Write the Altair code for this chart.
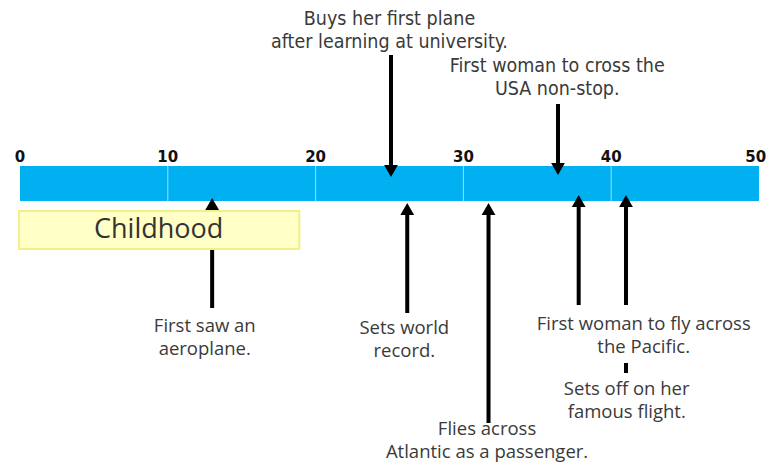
import altair as alt
import pandas as pd

# ---- data (ages on the timeline) ----
tick_values = [0, 10, 20, 30, 40, 50]
event_ages = [25.1, 36.4, 13.0, 26.2, 31.7, 37.8, 41.0]
event_dirs = ["down", "down", "up", "up", "up", "up", "up"]
event_labels = [
    ["Buys her first plane", "after learning at university."],
    ["First woman to cross the", "USA non-stop."],
    ["First saw an", "aeroplane."],
    ["Sets world", "record."],
    ["Flies across", "Atlantic as a passenger."],
    ["First woman to fly across", "the Pacific."],
    ["Sets off on her", "famous flight."],
]
childhood_span = [0, 18.9]
childhood_label = "Childhood"
timeline_span = [0, 50]

# ---- layout (page pixel rows) ----
shaft_y1 = [55, 104, 205, 209, 209, 201, 201]
shaft_y2 = [171, 169, 308, 313, 423, 305, 305]
head_y = [171, 169, 204, 209, 209, 201, 201]
label_x = [25.0, 36.35, 12.5, 26.0, 31.6, 42.2, 41.05]
label_y = [19, 66, 326, 328, 429, 324, 389]   # row of the first line
line_gap = 22.5
bar_y = [166, 201]
box_y = [211, 249]

W, H = 775 - 16, 463 - 8
xs = alt.Scale(domain=[0, 50], range=[12, 751])
ys = alt.Scale(domain=[0, 463], range=[-8, 455])

bar = alt.Chart(pd.DataFrame({"a": [timeline_span[0]], "b": [timeline_span[1]],
                              "y": [bar_y[0]], "y2": [bar_y[1]]})).mark_rect(color="#00b0f0").encode(
    x=alt.X("a:Q", scale=xs, axis=None), x2="b:Q",
    y=alt.Y("y:Q", scale=ys, axis=None), y2="y2:Q")

seps = alt.Chart(pd.DataFrame({"t": tick_values[1:-1]})).mark_rule(
    color="#ffffff", opacity=0.6, strokeWidth=1).encode(
    x=alt.X("t:Q", scale=xs), y=alt.datum(bar_y[0], scale=ys), y2=alt.datum(bar_y[1]))

# last tick label nudged slightly inward so it is not clipped at the page edge
ticks = alt.Chart(pd.DataFrame({"t": tick_values})).transform_calculate(
    tx="datum.t == 50 ? datum.t - 0.22 : datum.t").mark_text(
    font="DejaVu Sans", fontWeight="bold", fontSize=15, color="#111111", baseline="middle").encode(
    x=alt.X("tx:Q", scale=xs), y=alt.datum(157, scale=ys), text=alt.Text("t:Q"))

ev = pd.DataFrame({"age": event_ages, "dir": event_dirs, "y1": shaft_y1, "y2": shaft_y2, "hy": head_y})

shafts = alt.Chart(ev).mark_rule(color="#000000", strokeWidth=4).encode(
    x=alt.X("age:Q", scale=xs), y=alt.Y("y1:Q", scale=ys), y2="y2:Q")

extra = alt.Chart(pd.DataFrame({"age": [event_ages[6]], "y1": [363], "y2": [373]})).mark_rule(
    color="#000000", strokeWidth=4).encode(
    x=alt.X("age:Q", scale=xs), y=alt.Y("y1:Q", scale=ys), y2="y2:Q")

box = alt.Chart(pd.DataFrame({"a": [childhood_span[0]], "b": [childhood_span[1]],
                              "y": [box_y[0]], "y2": [box_y[1]]})).mark_rect(
    fill="#ffffc6", stroke="#f0f08c", strokeWidth=2, xOffset=-1).encode(
    x=alt.X("a:Q", scale=xs), x2="b:Q", y=alt.Y("y:Q", scale=ys), y2="y2:Q")

box_text = alt.Chart(pd.DataFrame({"a": [childhood_span[0]], "b": [childhood_span[1]],
                                   "t": [childhood_label]})).transform_calculate(
    m="(datum.a + datum.b) / 2").mark_text(
    font="Open Sans", fontSize=27, color="#333333", baseline="middle", dx=-1).encode(
    x=alt.X("m:Q", scale=xs), y=alt.datum(230, scale=ys), text="t:N")

heads_up = alt.Chart(ev[ev["dir"] == "up"]).mark_point(
    shape="triangle-up", filled=True, color="#000000", opacity=1, size=190).encode(
    x=alt.X("age:Q", scale=xs), y=alt.Y("hy:Q", scale=ys))
heads_down = alt.Chart(ev[ev["dir"] == "down"]).mark_point(
    shape="triangle-down", filled=True, color="#000000", opacity=1, size=190).encode(
    x=alt.X("age:Q", scale=xs), y=alt.Y("hy:Q", scale=ys))

rows = []
for i, lines in enumerate(event_labels):
    for j, s in enumerate(lines):
        rows.append({"x": label_x[i], "y": label_y[i] + j * line_gap, "t": s,
                     "top": event_dirs[i] == "down"})
lab = pd.DataFrame(rows)

labels_top = alt.Chart(lab[lab["top"]]).mark_text(
    font="DejaVu Sans Condensed, Open Sans", fontSize=19.5, color="#3a3a3a", baseline="middle").encode(
    x=alt.X("x:Q", scale=xs), y=alt.Y("y:Q", scale=ys), text="t:N")
labels_bot = alt.Chart(lab[~lab["top"]]).mark_text(
    font="Open Sans", fontSize=18.5, color="#3a3a3a", baseline="middle").encode(
    x=alt.X("x:Q", scale=xs), y=alt.Y("y:Q", scale=ys), text="t:N")

chart = alt.layer(bar, seps, ticks, shafts, extra, box, box_text, heads_up, heads_down,
                  labels_top, labels_bot).properties(
    width=W, height=H, padding=0, autosize=alt.AutoSizeParams(type="none"),
    background="#ffffff").configure_view(stroke=None)

chart.save("out.html", embed_options={"renderer": "svg", "actions": False})
